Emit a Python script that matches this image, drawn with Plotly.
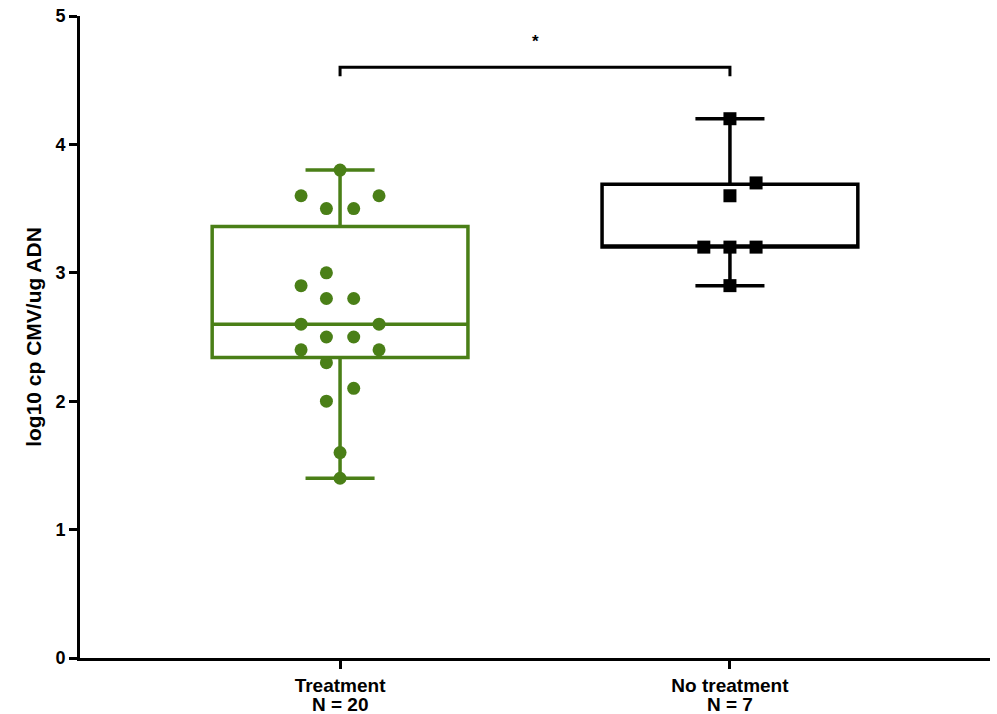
import plotly.graph_objects as go

# ---- data ----
categories = ["Treatment", "No treatment"]
group_sizes = ["N = 20", "N = 7"]

treat_values = [3.8, 3.6, 3.6, 3.5, 3.5, 3.0, 2.9, 2.8, 2.8, 2.6,
                2.6, 2.5, 2.5, 2.4, 2.4, 2.3, 2.1, 2.0, 1.6, 1.4]
treat_spread = [0, -1, 1, -0.35, 0.35, -0.35, -1, -0.35, 0.35, -1,
                1, -0.35, 0.35, -1, 1, -0.35, 0.35, -0.35, 0, 0]

notreat_values = [4.2, 3.7, 3.6, 3.2, 3.2, 3.2, 2.9]
notreat_spread = [0, 0.67, 0, -0.67, 0, 0.67, 0]

# box summary (q1, median, q3, low whisker, high whisker)
treat_box = dict(q1=2.34, median=2.6, q3=3.36, lo=1.4, hi=3.8)
notreat_box = dict(q1=3.2, median=3.2, q3=3.69, lo=2.9, hi=4.2)

y_ticks = [0, 1, 2, 3, 4, 5]
sig_label = "*"

GREEN = "#4a7f17"
BLACK = "#000000"
SPREAD_UNIT = 0.1  # category units per spread step
FONT = "Liberation Sans"

fig = go.Figure()

for i, (box, col) in enumerate([(treat_box, GREEN), (notreat_box, BLACK)]):
    fig.add_trace(go.Box(
        x=[i], q1=[box["q1"]], median=[box["median"]], q3=[box["q3"]],
        lowerfence=[box["lo"]], upperfence=[box["hi"]],
        width=0.656, whiskerwidth=0.27,
        line=dict(color=col, width=3.5), fillcolor="rgba(0,0,0,0)",
        boxpoints=False, showlegend=False, hoverinfo="skip"))

fig.add_trace(go.Scatter(
    x=[0 + s * SPREAD_UNIT for s in treat_spread], y=treat_values,
    mode="markers", marker=dict(symbol="circle", size=13, color=GREEN),
    showlegend=False, name=categories[0]))
fig.add_trace(go.Scatter(
    x=[1 + s * SPREAD_UNIT for s in notreat_spread], y=notreat_values,
    mode="markers", marker=dict(symbol="square", size=13, color=BLACK),
    showlegend=False, name=categories[1]))

# significance bracket
fig.add_shape(type="path", path="M 0,4.53 L 0,4.6 L 1,4.6 L 1,4.53",
              line=dict(color=BLACK, width=3), xref="x", yref="y")
fig.add_annotation(x=0.5, y=4.8, text="<b>" + sig_label + "</b>", showarrow=False,
                   font=dict(size=17, color=BLACK, family=FONT))

# second line of category labels (group sizes)
for i, n in enumerate(group_sizes):
    fig.add_annotation(x=i, xref="x", y=0, yref="paper", yanchor="middle",
                       yshift=-46, text="<b>" + n + "</b>", showarrow=False,
                       font=dict(size=19, color=BLACK, family=FONT))

fig.update_layout(
    width=997, height=714,
    margin=dict(l=80, r=7, t=16, b=56),
    plot_bgcolor="white", paper_bgcolor="white",
    font=dict(family=FONT, color="black"),
)
fig.update_xaxes(
    range=[-0.667, 1.667], tickmode="array", tickvals=[0, 1],
    ticktext=["<b>" + c + "</b>" for c in categories],
    showgrid=False, zeroline=False, showline=True, linecolor="black", linewidth=3,
    ticks="outside", ticklen=8, tickwidth=3, tickcolor="black", automargin=False,
    tickfont=dict(size=19, family=FONT, color="black"))
fig.update_yaxes(
    range=[0, 5], tickmode="array", tickvals=y_ticks,
    ticktext=["<b>%d</b>" % v for v in y_ticks],
    showgrid=False, zeroline=False, showline=True, linecolor="black", linewidth=3,
    ticks="outside", ticklen=8, tickwidth=3, tickcolor="black", automargin=False,
    tickfont=dict(size=18, family=FONT, color="black"),
    title=dict(text="<b>log10 cp CMV/ug ADN</b>", standoff=9,
               font=dict(size=21, family=FONT, color="black")))

fig.write_html("out.html")
